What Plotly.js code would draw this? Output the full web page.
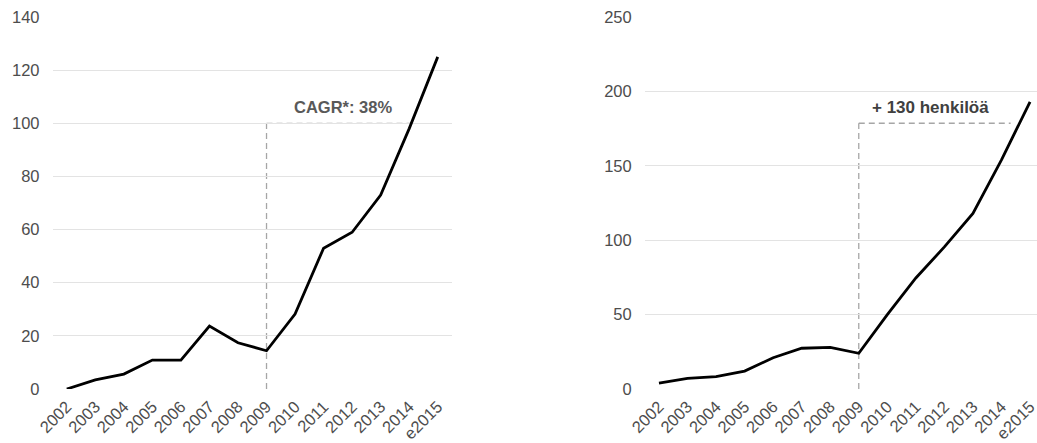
<!DOCTYPE html>
<html><head><meta charset="utf-8">
<script src="https://cdn.plot.ly/plotly-3.0.1.min.js"></script>
<style>html,body{margin:0;padding:0;overflow:hidden;background:#fff;width:1037px;height:443px}</style>
</head><body><div id="chart"></div>
<script>
const years = ["2002","2003","2004","2005","2006","2007","2008","2009","2010","2011","2012","2013","2014","e2015"];
const leftValues = [0, 3.4, 5.6, 10.9, 10.9, 23.7, 17.4, 14.4, 28.2, 53, 59, 73, 98, 125];
const rightValues = [4, 7.2, 8.3, 12, 21, 27.4, 28, 24, 50, 74.6, 95.5, 118, 154, 193];
const leftTicks = [0, 20, 40, 60, 80, 100, 120, 140];
const rightTicks = [0, 50, 100, 150, 200, 250];
const leftNote = "CAGR*: 38%";
const rightNote = "+ 130 henkilöä";
const leftGuide = {x0: 7, x1: 12.1, y: 100, labelX: 9.68, labelY: 106};
const rightGuide = {x0: 7, x1: 12.32, y: 178.6, labelX: 9.5, labelY: 189};

const W = 1045;
const tickGray = '#4d4d4d';
const font = 'Liberation Sans, Arial, sans-serif';

const traces = [
  {x: years, y: leftValues, type: 'scatter', mode: 'lines', xaxis: 'x', yaxis: 'y',
   line: {color: '#000', width: 2.8}, hoverinfo: 'skip'},
  {x: years, y: rightValues, type: 'scatter', mode: 'lines', xaxis: 'x2', yaxis: 'y2',
   line: {color: '#000', width: 2.8}, hoverinfo: 'skip'}
];

const xBase = {type: 'category', showgrid: false, zeroline: false, showline: false,
  ticks: '', tickangle: -45, tickfont: {family: font, size: 16.5, color: tickGray},
  range: [-0.5, 13.5], fixedrange: true, ticklabelstandoff: 4};
const yBase = {showgrid: true, gridcolor: '#e3e3e3', gridwidth: 1, zeroline: false,
  showline: false, ticks: '', tickfont: {family: font, size: 16.5, color: tickGray},
  domain: [54/443, 1 - 17/443], fixedrange: true, ticklabelstandoff: 12};

const dash = {color: '#a6a6a6', width: 1.3, dash: '6px,4px'};

const layout = {
  width: W, height: 443,
  margin: {l: 0, r: 0, t: 0, b: 0},
  paper_bgcolor: '#fff', plot_bgcolor: '#fff',
  showlegend: false,
  xaxis: Object.assign({}, xBase, {domain: [52.5/W, 452/W], anchor: 'y', tickvals: years, ticktext: years}),
  yaxis: Object.assign({}, yBase, {range: [0, 140], tickvals: leftTicks, anchor: 'x'}),
  xaxis2: Object.assign({}, xBase, {domain: [644.7/W, 1044.3/W], anchor: 'y2', tickvals: years, ticktext: years}),
  yaxis2: Object.assign({}, yBase, {range: [0, 250], tickvals: rightTicks, anchor: 'x2'}),
  shapes: [
    {type: 'line', xref: 'x', yref: 'y', x0: leftGuide.x0, x1: leftGuide.x0, y0: 0, y1: leftGuide.y, line: dash, layer: 'below'},
    {type: 'line', xref: 'x', yref: 'y', x0: leftGuide.x0, x1: leftGuide.x1, y0: leftGuide.y, y1: leftGuide.y, line: dash, layer: 'below'},
    {type: 'line', xref: 'x2', yref: 'y2', x0: rightGuide.x0, x1: rightGuide.x0, y0: 0, y1: rightGuide.y, line: dash, layer: 'below'},
    {type: 'line', xref: 'x2', yref: 'y2', x0: rightGuide.x0, x1: rightGuide.x1, y0: rightGuide.y, y1: rightGuide.y, line: dash, layer: 'below'}
  ],
  annotations: [
    {xref: 'x', yref: 'y', x: leftGuide.labelX, y: leftGuide.labelY, text: '<b>' + leftNote + '</b>',
     showarrow: false, font: {family: font, size: 16.5, color: '#595959'}, xanchor: 'center', yanchor: 'middle'},
    {xref: 'x2', yref: 'y2', x: rightGuide.labelX, y: rightGuide.labelY, text: '<b>' + rightNote + '</b>',
     showarrow: false, font: {family: font, size: 17, color: '#404040'}, xanchor: 'center', yanchor: 'middle'}
  ]
};

Plotly.newPlot('chart', traces, layout, {staticPlot: true, displayModeBar: false});
</script></body></html>
